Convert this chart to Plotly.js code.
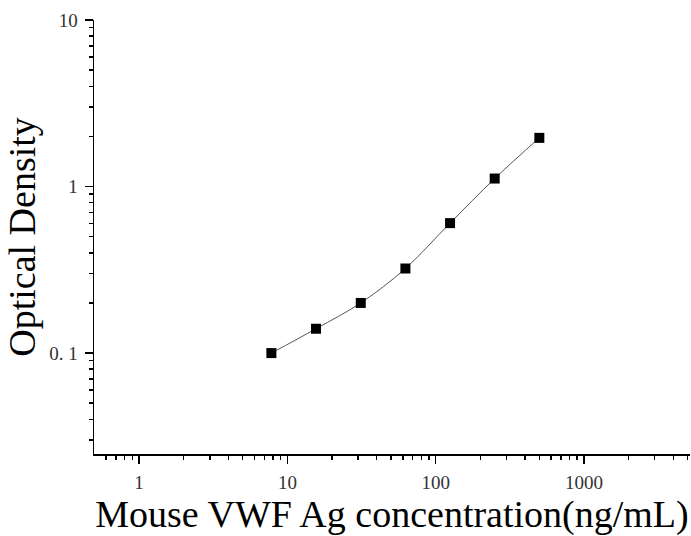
<!DOCTYPE html>
<html><head><meta charset="utf-8">
<script src="https://cdn.plot.ly/plotly-3.0.1.min.js"></script>
<style>html,body{margin:0;padding:0;background:#fff;}#chart{width:691px;height:536px;}</style>
</head><body><div id="chart"></div>
<script>
const concentration = [7.8, 15.6, 31.25, 62.5, 125, 250, 500];
const opticalDensity = [0.100, 0.140, 0.200, 0.322, 0.603, 1.117, 1.96];
const yTickVals = [0.1, 1, 10];
const yTickText = ['0. 1', '1', '10'];
const yMinorVals = [0.03, 0.04, 0.05, 0.06, 0.07, 0.08, 0.09, 0.2, 0.3, 0.4, 0.5, 0.6, 0.7, 0.8, 0.9, 2, 3, 4, 5, 6, 7, 8, 9];
const xTickVals = [1, 10, 100, 1000];
const xTickText = ['1', '10', '100', '1000'];
const xMinorVals = [0.6, 0.7, 0.8, 0.9, 2, 3, 4, 5, 6, 7, 8, 9, 20, 30, 40, 50, 60, 70, 80, 90, 200, 300, 400, 500, 600, 700, 800, 900, 2000, 3000, 4000, 5000];

const fit = {x: concentration, y: opticalDensity, type: 'scatter', mode: 'lines',
  line: {shape: 'spline', color: '#555', width: 1}, hoverinfo: 'skip'};
const pts = {x: concentration, y: opticalDensity, type: 'scatter', mode: 'markers',
  marker: {symbol: 'square', size: 10, color: '#000'}};

const fam = '"Liberation Serif", "Times New Roman", serif';
const layout = {
  width: 691, height: 536, showlegend: false,
  paper_bgcolor: '#fff', plot_bgcolor: '#fff',
  margin: {l: 94, r: 1, t: 20, b: 82},
  font: {family: fam, color: '#000'},
  xaxis: {type: 'log', range: [-0.304, 3.715], showgrid: false, zeroline: false,
    showline: true, linecolor: '#000', linewidth: 1.5,
    ticks: 'outside', ticklen: 8, tickwidth: 1.5, tickcolor: '#000',
    tickmode: 'array', tickvals: xTickVals, ticktext: xTickText,
    ticklabelstandoff: 3,
    tickfont: {family: fam, size: 19, color: '#333'},
    minor: {tickmode: 'array', tickvals: xMinorVals, ticks: 'outside', ticklen: 4, tickwidth: 1.5, tickcolor: '#000', showgrid: false},
    title: {text: 'Mouse VWF Ag concentration(ng/mL)', font: {family: fam, size: 38, color: '#000'}, standoff: 12}},
  yaxis: {type: 'log', range: [-1.606, 1.0], showgrid: false, zeroline: false,
    showline: true, linecolor: '#000', linewidth: 1.5,
    ticks: 'outside', ticklen: 8, tickwidth: 1.5, tickcolor: '#000',
    tickmode: 'array', tickvals: yTickVals, ticktext: yTickText,
    ticklabelstandoff: 3,
    tickfont: {family: fam, size: 19, color: '#333'},
    minor: {tickmode: 'array', tickvals: yMinorVals, ticks: 'outside', ticklen: 4, tickwidth: 1.5, tickcolor: '#000', showgrid: false},
    title: {text: 'Optical Density', font: {family: fam, size: 38, color: '#000'}, standoff: 2}}
};
Plotly.newPlot('chart', [fit, pts], layout, {displayModeBar: false, staticPlot: true});
</script></body></html>
